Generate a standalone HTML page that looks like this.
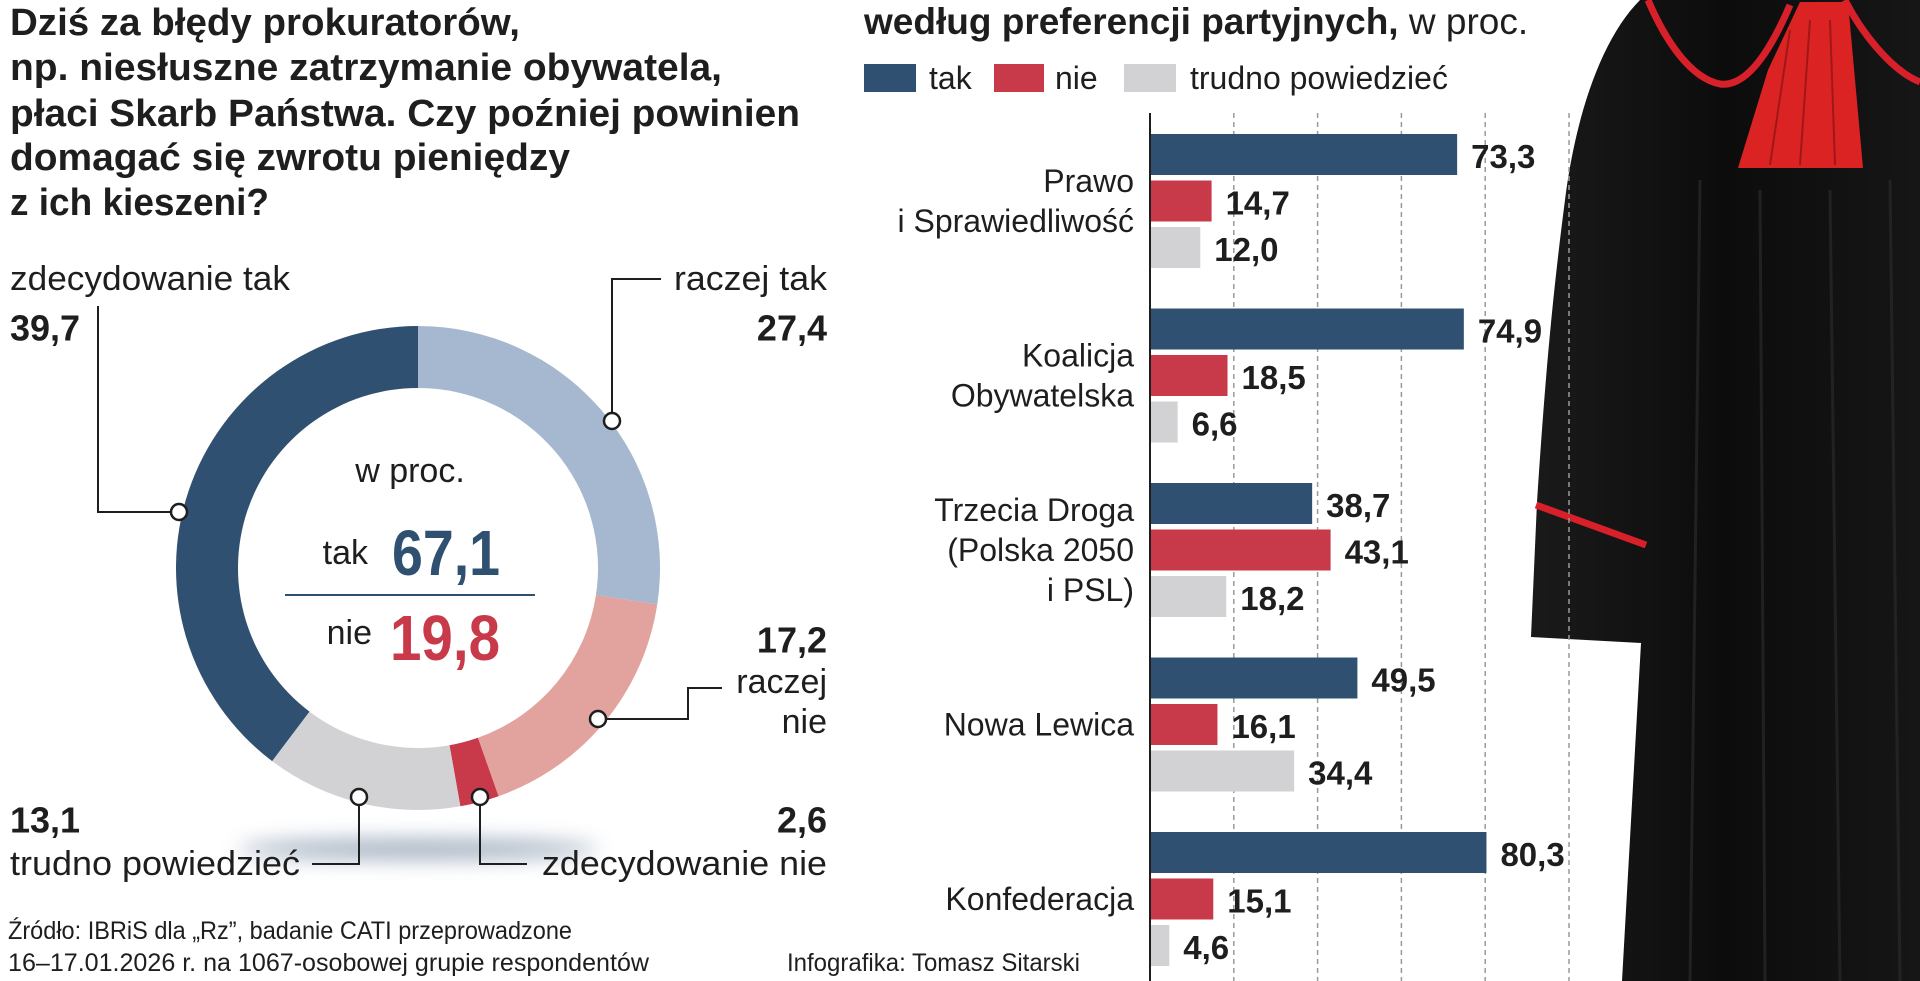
<!DOCTYPE html>
<html><head><meta charset="utf-8">
<style>
html,body{margin:0;padding:0;background:#fff;}
svg{display:block;font-family:"Liberation Sans",sans-serif;}
.t{fill:#1e1e1e;}
</style></head>
<body>
<svg id="chart" width="1920" height="981" viewBox="0 0 1920 981" xmlns="http://www.w3.org/2000/svg">
<defs>
<filter id="blur" x="-50%" y="-300%" width="200%" height="700%"><feGaussianBlur stdDeviation="10"/></filter>
<linearGradient id="robeg" x1="0" x2="1"><stop offset="0" stop-color="#1a1a1a"/><stop offset="0.5" stop-color="#0c0c0c"/><stop offset="1" stop-color="#161616"/></linearGradient>
</defs>

<!-- robe illustration -->
<g>
<path d="M1640,0 L1920,0 L1920,981 L1622,981 L1641,643 L1531,637 L1537,502 C1545,380 1552,300 1565,200 C1575,120 1600,40 1640,0 Z" fill="url(#robeg)"/>
<path d="M1536,505 L1646,545" stroke="#d8202a" stroke-width="7" fill="none"/>
<path d="M1648,0 C1665,40 1690,78 1720,84 C1750,88 1775,40 1790,5" stroke="#d8202a" stroke-width="7" fill="none"/>
<path d="M1845,0 C1860,30 1890,70 1920,82" stroke="#d8202a" stroke-width="7" fill="none"/>
<path d="M1800,2 L1848,2 L1863,168 L1738,168 L1768,70 Z" fill="#dc2324"/>
<g stroke="#7a0e12" stroke-width="2" opacity="0.6"><path d="M1790,30 L1770,165"/><path d="M1810,20 L1800,165"/><path d="M1830,20 L1835,165"/></g>
<g stroke="#2a2a2a" stroke-width="3" opacity="0.7"><path d="M1700,180 L1690,981"/><path d="M1760,190 L1765,981"/><path d="M1830,190 L1840,981"/><path d="M1890,180 L1900,981"/></g>
</g>

<!-- left title -->
<g font-weight="bold" font-size="38" class="t">
<text x="10" y="35" textLength="510" lengthAdjust="spacingAndGlyphs">Dziś za błędy prokuratorów,</text>
<text x="10" y="80" textLength="712" lengthAdjust="spacingAndGlyphs">np. niesłuszne zatrzymanie obywatela,</text>
<text x="10" y="126" textLength="790" lengthAdjust="spacingAndGlyphs">płaci Skarb Państwa. Czy poźniej powinien</text>
<text x="10" y="170" textLength="560" lengthAdjust="spacingAndGlyphs">domagać się zwrotu pieniędzy</text>
<text x="10" y="215" textLength="259" lengthAdjust="spacingAndGlyphs">z ich kieszeni?</text>
</g>

<ellipse cx="418" cy="849" rx="180" ry="10" fill="#8a9bb0" filter="url(#blur)" opacity="0.8"/>
<g id="donut"></g>
<g id="leaders" stroke="#1e1e1e" stroke-width="2" fill="none">
<path d="M98,306 L98,512 L179,512"/>
<path d="M612,421 L612,279 L661,279"/>
<path d="M598,719 L688,719 L688,688 L722,688"/>
<path d="M359,797 L359,864 L312,864"/>
<path d="M480,797 L480,864 L527,864"/>
</g>
<g fill="#fff" stroke="#1e1e1e" stroke-width="2.5">
<circle cx="179" cy="512" r="8"/><circle cx="612" cy="421" r="8"/><circle cx="598" cy="719" r="8"/><circle cx="359" cy="797" r="8"/><circle cx="480" cy="797" r="8"/>
</g>

<!-- donut labels -->
<g class="t" font-size="34" dominant-baseline="central">
<text x="10" y="279" textLength="280" lengthAdjust="spacingAndGlyphs">zdecydowanie tak</text>
<text x="10" y="328" font-weight="bold" font-size="36">39,7</text>
<text x="827" y="279" text-anchor="end" textLength="153" lengthAdjust="spacingAndGlyphs">raczej tak</text>
<text x="827" y="328" text-anchor="end" font-weight="bold" font-size="36">27,4</text>
<text x="827" y="640" text-anchor="end" font-weight="bold" font-size="36">17,2</text>
<text x="827" y="682" text-anchor="end">raczej</text>
<text x="827" y="722" text-anchor="end">nie</text>
<text x="10" y="820" font-weight="bold" font-size="36">13,1</text>
<text x="10" y="864" textLength="290" lengthAdjust="spacingAndGlyphs">trudno powiedzieć</text>
<text x="827" y="820" text-anchor="end" font-weight="bold" font-size="36">2,6</text>
<text x="827" y="864" text-anchor="end" textLength="285" lengthAdjust="spacingAndGlyphs">zdecydowanie nie</text>
</g>

<!-- donut center -->
<g dominant-baseline="central">
<text x="410" y="471" font-size="34" text-anchor="middle" class="t">w proc.</text>
<text x="368" y="553" font-size="34" text-anchor="end" class="t">tak</text>
<text x="392" y="553" font-size="64" font-weight="bold" fill="#2f5070" textLength="108" lengthAdjust="spacingAndGlyphs">67,1</text>
<line x1="285" y1="595" x2="535" y2="595" stroke="#2f5070" stroke-width="2"/>
<text x="372" y="633" font-size="34" text-anchor="end" class="t">nie</text>
<text x="390" y="638" font-size="64" font-weight="bold" fill="#c8394a" textLength="110" lengthAdjust="spacingAndGlyphs">19,8</text>
</g>

<!-- source -->
<g font-size="25" class="t">
<text x="8" y="939" textLength="564" lengthAdjust="spacingAndGlyphs">Źródło: IBRiS dla „Rz”, badanie CATI przeprowadzone</text>
<text x="8" y="971" textLength="641" lengthAdjust="spacingAndGlyphs">16–17.01.2026 r. na 1067-osobowej grupie respondentów</text>
<text x="787" y="971" textLength="293" lengthAdjust="spacingAndGlyphs">Infografika: Tomasz Sitarski</text>
</g>

<!-- right title + legend -->
<text x="864" y="34" font-size="37" class="t"><tspan font-weight="bold">według preferencji partyjnych,</tspan> w proc.</text>
<g font-size="32" class="t" dominant-baseline="central">
<g><rect x="864" y="64" width="52" height="28" fill="#2f5070"/><text x="929" y="78">tak</text></g>
<g><rect x="994" y="64" width="50" height="28" fill="#c8394a"/><text x="1055" y="78">nie</text></g>
<g><rect x="1124" y="64" width="52" height="28" fill="#d2d2d4"/><text x="1190" y="78">trudno powiedzieć</text></g>
</g>
<g id="bars"></g>

<script>
// donut data
var donutLabels = ["raczej tak","raczej nie","zdecydowanie nie","trudno powiedzieć","zdecydowanie tak"];
var donutValues = [27.4, 17.2, 2.6, 13.1, 39.7];
var donutColors = ["#a5b8d0","#e2a39e","#c8394a","#d2d2d4","#2f5070"];

// bar data
var parties = ["Prawo i Sprawiedliwość","Koalicja Obywatelska","Trzecia Droga (Polska 2050 i PSL)","Nowa Lewica","Konfederacja"];
var partyLines = [["Prawo","i Sprawiedliwość"],["Koalicja","Obywatelska"],["Trzecia Droga","(Polska 2050","i PSL)"],["Nowa Lewica"],["Konfederacja"]];
var takValues = [73.3, 74.9, 38.7, 49.5, 80.3];
var nieValues = [14.7, 18.5, 43.1, 16.1, 15.1];
var trudnoValues = [12.0, 6.6, 18.2, 34.4, 4.6];
var gridTicks = [0, 20, 40, 60, 80, 100];

var NS = "http://www.w3.org/2000/svg";
function mk(tag, attrs, parent){ var e=document.createElementNS(NS,tag); for(var k in attrs) e.setAttribute(k, attrs[k]); parent.appendChild(e); return e; }

// donut
(function(){
  var g=document.getElementById('donut');
  var cx=418, cy=568, R=242, r=180;
  var total=donutValues.reduce(function(a,b){return a+b;},0);
  var a0=0;
  function pt(rad,a){ return [cx+rad*Math.sin(a), cy-rad*Math.cos(a)]; }
  donutValues.forEach(function(v,i){
    var a1=a0+v/total*2*Math.PI;
    var large=(a1-a0)>Math.PI?1:0;
    var p1=pt(R,a0),p2=pt(R,a1),p3=pt(r,a1),p4=pt(r,a0);
    var d="M"+p1+" A"+R+","+R+" 0 "+large+" 1 "+p2+" L"+p3+" A"+r+","+r+" 0 "+large+" 0 "+p4+" Z";
    var p=mk('path',{d:d,fill:donutColors[i]},g);
    
    
    a0=a1;
  });
})();

// bars
(function(){
  var g=document.getElementById('bars');
  var x0=1150, pxPerUnit=4.19, top0=134, groupStep=174.5, barStep=46.5, barH=41;
  function xs(v){ return x0+v*pxPerUnit; }
  gridTicks.forEach(function(t){
    if(t===0) return;
    var l=mk('line',{x1:xs(t),x2:xs(t),y1:113,y2:981,stroke:'#9a9a9a','stroke-width':1.5,'stroke-dasharray':'5,4'},g);
    
    
  });
  var series=[takValues,nieValues,trudnoValues], cols=['#2f5070','#c8394a','#d2d2d4'], names=['tak','nie','trudno'];
  parties.forEach(function(p,i){
    var gy=top0+i*groupStep;
    series.forEach(function(s,j){
      var y=gy+j*barStep;
      var b=mk('rect',{x:x0,y:y,width:xs(s[i])-x0,height:barH,fill:cols[j]},g);
      
      
      var t=mk('text',{x:xs(s[i])+14,y:y+barH/2+2,'font-size':33,'font-weight':'bold','dominant-baseline':'central',fill:'#1e1e1e'},g);
      
      
      t.textContent=s[i].toFixed(1).replace('.',',');
    });
    var lines=partyLines[i], center=gy+(2*barStep+barH)/2, lh=40;
    lines.forEach(function(ln,k){
      var t=mk('text',{x:1134,y:center+(k-(lines.length-1)/2)*lh,'font-size':32,'text-anchor':'end','dominant-baseline':'central',fill:'#1e1e1e'},g);
      
      
      t.textContent=ln;
    });
  });
  var ax=mk('line',{x1:x0,x2:x0,y1:113,y2:981,stroke:'#1e1e1e','stroke-width':2},g);
  
  
})();
</script>
</svg>
</body></html>
